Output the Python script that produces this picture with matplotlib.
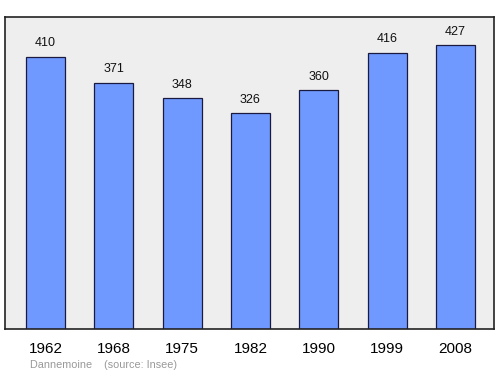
import matplotlib.pyplot as plt
import numpy as np

# Population de Dannemoine
annees = ['1962', '1968', '1975', '1982', '1990', '1999', '2008']
population = [410, 371, 348, 326, 360, 416, 427]

plt.rcParams['font.family'] = ['Liberation Sans', 'DejaVu Sans']

fig = plt.figure(figsize=(5, 3.74), dpi=100)
ax = fig.add_axes([0.01, 0.1203, 0.978, 0.8342])
ax.set_facecolor('#eeeeee')

x = np.arange(len(annees))
ax.bar(x, population, width=0.57, color='#7099ff', edgecolor='#1a1a40', linewidth=0.9, zorder=2)

# valeurs au-dessus des barres
for xi, v in zip(x, population):
    ax.text(xi, v + 20, str(v), ha='center', va='center', fontsize=9, color='#111111')

ax.set_xlim(-0.593, 6.566)
ax.set_ylim(5, 469)
ax.set_yticks([])
ax.set_xticks(x)
ax.set_xticklabels(annees, fontsize=11)
ax.tick_params(axis='x', length=0, pad=9)
for s in ax.spines.values():
    s.set_color('#222222')
    s.set_linewidth(1.2)

fig.text(30 / 500, 1 - 365 / 374, 'Dannemoine    (source: Insee)', fontsize=7.8,
         color='#999999', va='center', ha='left')

fig.savefig('out.png', dpi=100)
